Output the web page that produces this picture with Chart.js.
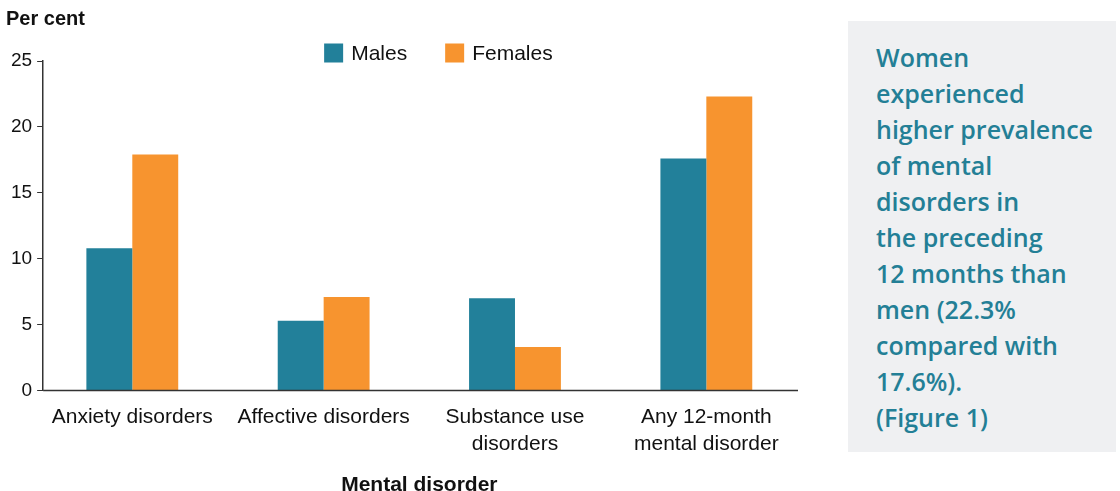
<!DOCTYPE html>
<html>
<head>
<meta charset="utf-8">
<script src="https://cdn.jsdelivr.net/npm/chart.js@4.4.1/dist/chart.umd.min.js"></script>
<style>
    body { margin: 0; background: #fff; width: 1120px; height: 491px; overflow: hidden; position: relative; }
    #chartBox { position: absolute; left: 0; top: 0; width: 830px; height: 491px; }
    #notePanel {
        position: absolute; left: 848px; top: 21px; width: 268px; height: 431px;
        background: #eff0f2; box-sizing: border-box; padding: 18px 0 0 28px;
        font-family: "Open Sans", sans-serif; font-weight: 600; font-size: 25px;
        line-height: 36px; color: #237f96;
    }
</style>
</head>
<body>
<div id="chartBox"><canvas id="prevalenceChart"></canvas></div>
<div id="notePanel">Women<br>experienced<br>higher prevalence<br>of mental<br>disorders in<br>the preceding<br>12 months than<br>men (22.3%<br>compared with<br>17.6%).<br>(Figure 1)</div>

<script>
// ============================================
// DATA
// ============================================

const categories = [
    'Anxiety disorders',
    'Affective disorders',
    ['Substance use', 'disorders'],
    ['Any 12-month', 'mental disorder'],
];
const malesValues = [10.8, 5.3, 7.0, 17.6];
const femalesValues = [17.9, 7.1, 3.3, 22.3];
const yTicks = [0, 5, 10, 15, 20, 25];

const TEAL = '#22809a';
const ORANGE = '#f7942f';
const FONT = '"Liberation Sans", Arial, sans-serif';

// The category band in the original runs a little past the y axis on the left,
// so widen the x scale after layout and draw the baseline ourselves
const widenPlugin = {
    id: 'widenX',
    afterLayout(chart) {
        const xs = chart.scales.x;
        xs.left = chart.chartArea.left - 6.5;
        xs.right = chart.chartArea.right + 4;
        xs.configure();
    },
};

// "Per cent" label, legend and baseline drawn by hand
const overlayPlugin = {
    id: 'overlay',
    afterDraw(chart) {
        const { ctx, chartArea } = chart;
        ctx.save();
        ctx.strokeStyle = '#333';
        ctx.lineWidth = 1.5;
        ctx.beginPath();
        ctx.moveTo(chartArea.left, chartArea.bottom);
        ctx.lineTo(chartArea.right, chartArea.bottom);
        ctx.stroke();

        ctx.fillStyle = '#111';
        ctx.textBaseline = 'middle';
        ctx.textAlign = 'left';
        ctx.font = 'bold 20px ' + FONT;
        ctx.fillText('Per cent', 6, 19);

        ctx.font = '21px ' + FONT;
        let x = chartArea.left + 281;
        const y = 53;
        chart.data.datasets.forEach((ds) => {
            ctx.fillStyle = ds.backgroundColor;
            ctx.fillRect(x, y - 9.5, 19, 19);
            ctx.fillStyle = '#111';
            ctx.fillText(ds.label, x + 27, y + 1);
            x += 27 + ctx.measureText(ds.label).width + 38;
        });
        ctx.restore();
    },
};

function initChart() {
    const ctx = document.getElementById('prevalenceChart');
    new Chart(ctx, {
        type: 'bar',
        data: {
            labels: categories,
            datasets: [
                { label: 'Males', data: malesValues, backgroundColor: TEAL },
                { label: 'Females', data: femalesValues, backgroundColor: ORANGE },
            ],
        },
        options: {
            responsive: true,
            maintainAspectRatio: false,
            animation: false,
            categoryPercentage: 0.48,
            barPercentage: 1,
            layout: { padding: { top: 61, left: 6, right: 32, bottom: -7 } },
            plugins: {
                legend: { display: false },
                tooltip: { enabled: false },
            },
            scales: {
                x: {
                    grid: { display: false },
                    border: { display: false },
                    ticks: {
                        color: '#111',
                        font: { family: FONT, size: 21, lineHeight: 1.29 },
                        padding: 5,
                        maxRotation: 0,
                        autoSkip: false,
                    },
                    title: {
                        display: true,
                        text: 'Mental disorder',
                        color: '#111',
                        font: { family: FONT, size: 21, weight: 'bold' },
                        padding: { top: 10, bottom: 0 },
                    },
                },
                y: {
                    min: 0,
                    max: 25,
                    afterBuildTicks: (axis) => {
                        axis.ticks = yTicks.map((v) => ({ value: v }));
                    },
                    grid: {
                        drawOnChartArea: false,
                        drawTicks: true,
                        tickLength: 6,
                        color: '#333',
                    },
                    border: { display: true, color: '#333', width: 1.5 },
                    ticks: {
                        color: '#111',
                        font: { family: FONT, size: 19 },
                        padding: 5,
                    },
                },
            },
        },
        plugins: [widenPlugin, overlayPlugin],
    });
}

document.addEventListener('DOMContentLoaded', initChart);
</script>
</body>
</html>
